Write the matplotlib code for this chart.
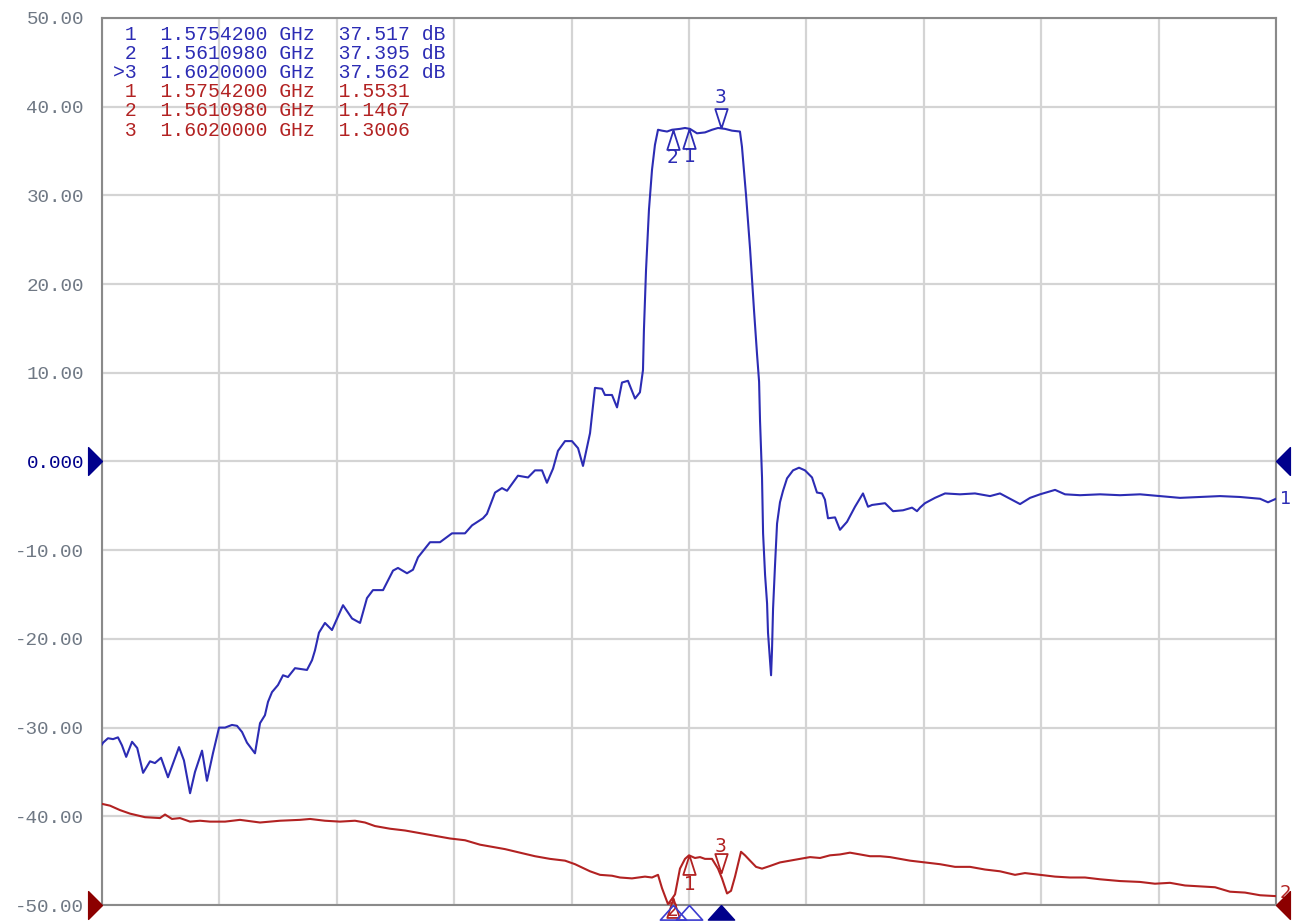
import numpy as np
import matplotlib
matplotlib.use("Agg")
import matplotlib.pyplot as plt

# trace 1 (blue, dB) - frequency in MHz
s21_freq = [1075.0, 1075.9, 1080.1, 1084.4, 1088.6, 1092.0, 1095.6, 1100.6, 1105.0, 1110.0,
            1115.9, 1120.1, 1125.3, 1131.2, 1140.6, 1144.8, 1150.0, 1154.2, 1160.2, 1164.4,
            1169.5, 1174.7, 1179.8, 1185.7, 1190.0, 1194.3, 1198.5, 1205.3, 1209.6, 1213.8,
            1216.4, 1219.8, 1224.9, 1229.2, 1233.4, 1239.4, 1249.6, 1253.9, 1256.4, 1259.8,
            1264.9, 1270.9, 1280.3, 1288.0, 1294.8, 1300.7, 1305.8, 1314.4, 1322.9, 1327.1,
            1334.8, 1339.9, 1344.2, 1354.4, 1362.9, 1373.1, 1384.2, 1390.2, 1399.5, 1402.9,
            1409.8, 1415.7, 1420.0, 1429.3, 1437.9, 1443.8, 1449.8, 1454.0, 1459.2, 1463.4,
            1469.4, 1475.3, 1480.5, 1484.7, 1490.7, 1494.9, 1500.9, 1503.4, 1509.4, 1513.7,
            1517.9, 1523.0, 1529.0, 1533.2, 1535.8, 1536.6, 1538.4, 1540.9, 1543.5, 1546.0,
            1548.6, 1552.0, 1556.3, 1560.5, 1567.3, 1571.6, 1575.8, 1581.8, 1588.6, 1594.6,
            1599.7, 1605.7, 1611.6, 1618.4, 1620.1, 1623.6, 1627.0, 1630.4, 1633.0, 1634.7,
            1635.5, 1637.2, 1638.1, 1639.8, 1641.5, 1642.3, 1644.0, 1644.9, 1645.7, 1646.6,
            1648.3, 1650.0, 1652.5, 1655.1, 1658.5, 1663.6, 1668.7, 1673.8, 1679.8, 1684.0,
            1688.3, 1690.8, 1693.4, 1699.4, 1703.6, 1709.6, 1716.4, 1723.2, 1727.5, 1730.9,
            1742.0, 1748.8, 1757.3, 1765.0, 1769.2, 1771.8, 1776.0, 1784.5, 1793.1, 1805.8,
            1818.6, 1831.4, 1839.9, 1848.4, 1857.0, 1865.5, 1874.0, 1886.8, 1895.3, 1908.1,
            1925.1, 1942.1, 1959.2, 1976.2, 1993.2, 2010.3, 2027.3, 2044.3, 2061.4, 2068.2,
            2075.0]
s21_db = [-31.9, -31.7, -31.2, -31.3, -31.1, -32.0, -33.3, -31.6, -32.3, -35.1,
          -33.8, -34.0, -33.4, -35.6, -32.2, -33.7, -37.4, -35.0, -32.6, -36.0,
          -32.9, -30.0, -30.0, -29.7, -29.8, -30.5, -31.7, -32.9, -29.5, -28.6,
          -27.1, -26.0, -25.2, -24.1, -24.3, -23.3, -23.5, -22.4, -21.3, -19.3,
          -18.2, -19.0, -16.2, -17.7, -18.2, -15.4, -14.5, -14.5, -12.3, -12.0,
          -12.6, -12.2, -10.8, -9.1, -9.1, -8.1, -8.1, -7.2, -6.4, -5.9,
          -3.5, -3.0, -3.3, -1.6, -1.8, -1.0, -1.0, -2.4, -0.8, 1.2,
          2.3, 2.3, 1.5, -0.5, 3.2, 8.3, 8.2, 7.5, 7.5, 6.1,
          8.9, 9.1, 7.1, 7.8, 10.3, 14.8, 21.6, 28.4, 32.9, 35.7,
          37.4, 37.3, 37.2, 37.4, 37.5, 37.6, 37.5, 37.0, 37.1, 37.4,
          37.6, 37.5, 37.3, 37.2, 35.5, 30.0, 24.0, 17.0, 12.0, 9.0,
          4.6, -1.8, -8.1, -12.8, -16.0, -19.3, -22.4, -24.1, -21.3, -16.6,
          -11.6, -7.0, -4.6, -3.3, -1.9, -1.0, -0.7, -1.0, -1.8, -3.5,
          -3.6, -4.3, -6.4, -6.3, -7.7, -6.8, -5.1, -3.6, -5.1, -4.9,
          -4.7, -5.6, -5.5, -5.2, -5.6, -5.2, -4.7, -4.1, -3.6, -3.7,
          -3.6, -3.9, -3.6, -4.2, -4.8, -4.1, -3.7, -3.2, -3.7, -3.8,
          -3.7, -3.8, -3.7, -3.9, -4.1, -4.0, -3.9, -4.0, -4.2, -4.6,
          -4.2]

# trace 2 (red), drawn on the same graticule
s11_freq = [1075.0, 1081.8, 1090.3, 1098.9, 1111.6, 1124.4, 1128.7, 1134.6, 1141.4, 1150.0,
            1158.5, 1167.0, 1179.8, 1192.5, 1209.6, 1226.6, 1243.7, 1252.2, 1264.9, 1277.7,
            1290.5, 1299.0, 1307.5, 1320.3, 1333.1, 1345.9, 1358.6, 1371.4, 1384.2, 1397.0,
            1409.8, 1418.3, 1431.0, 1443.8, 1456.6, 1469.4, 1477.9, 1490.7, 1499.2, 1509.4,
            1516.2, 1526.4, 1537.5, 1543.5, 1548.6, 1552.0, 1557.1, 1560.5, 1563.1, 1567.3,
            1571.6, 1575.0, 1580.1, 1584.4, 1588.6, 1594.6, 1599.7, 1603.1, 1607.4, 1610.8,
            1614.2, 1619.3, 1622.7, 1627.0, 1632.1, 1637.2, 1644.0, 1652.5, 1661.0, 1669.5,
            1678.1, 1686.6, 1695.1, 1703.6, 1712.1, 1720.7, 1729.2, 1737.7, 1746.2, 1754.7,
            1763.2, 1776.0, 1788.8, 1801.6, 1814.4, 1827.1, 1839.9, 1852.7, 1861.2, 1874.0,
            1886.8, 1899.5, 1912.3, 1925.1, 1942.1, 1959.2, 1971.9, 1984.7, 1997.5, 2010.3,
            2023.1, 2035.8, 2048.6, 2061.4, 2075.0]
s11_val = [-38.6, -38.8, -39.3, -39.7, -40.1, -40.2, -39.8, -40.3, -40.2, -40.6,
           -40.5, -40.6, -40.6, -40.4, -40.7, -40.5, -40.4, -40.3, -40.5, -40.6,
           -40.5, -40.7, -41.1, -41.4, -41.6, -41.9, -42.2, -42.5, -42.7, -43.2,
           -43.5, -43.7, -44.1, -44.5, -44.8, -45.0, -45.4, -46.2, -46.6, -46.7,
           -46.9, -47.0, -46.8, -46.9, -46.6, -48.1, -49.9, -49.3, -48.8, -45.9,
           -44.8, -44.4, -44.7, -44.6, -44.8, -44.8, -45.9, -47.0, -48.7, -48.4,
           -46.8, -44.0, -44.4, -45.0, -45.7, -45.9, -45.6, -45.2, -45.0, -44.8,
           -44.6, -44.7, -44.4, -44.3, -44.1, -44.3, -44.5, -44.5, -44.6, -44.8,
           -45.0, -45.2, -45.4, -45.7, -45.7, -46.0, -46.2, -46.6, -46.4, -46.6,
           -46.8, -46.9, -46.9, -47.1, -47.3, -47.4, -47.6, -47.5, -47.8, -47.9,
           -48.0, -48.5, -48.6, -48.9, -49.0]

# markers
mk_ids = [1, 2, 3]
mk_freq_ghz = [1.57542, 1.561098, 1.602]
mk_s21 = [37.517, 37.395, 37.562]
mk_s11_read = [1.5531, 1.1467, 1.3006]
mk_s11_pos = [-44.4, -49.2, -46.4]
active = 3
ref_levels = [0.0, -50.0]   # blue, red

BLUE = "#2c2cb4"
RED = "#b22222"
NAVY = "#00008c"
DRED = "#8c0000"
mono = "Liberation Mono"

fig = plt.figure(figsize=(13, 9.22), dpi=100)
ax = fig.add_axes([102/1300, 1-905/922, 1174/1300, 887/922])
ax.set_xlim(1075, 2075)
ax.set_ylim(-50, 50)
ax.set_xticks(np.linspace(1075, 2075, 11))
ax.set_yticks(np.arange(-50, 51, 10))
ax.grid(True, color="#d4d4d4", lw=1.6)
ax.set_axisbelow(True)
ax.tick_params(length=0, labelbottom=False, pad=13)
for sp in ax.spines.values():
    sp.set_color("#8a8a8a")
    sp.set_linewidth(1.5)
labels = []
for v in np.arange(-50, 51, 10):
    labels.append("0.000" if v == 0 else "%.2f" % v)
ax.set_yticklabels(labels)
for t, v in zip(ax.get_yticklabels(), np.arange(-50, 51, 10)):
    t.set_fontfamily(mono)
    t.set_fontsize(13.9)
    t.set_color(NAVY if v == 0 else "#6f7884")

ax.plot(s11_freq, s11_val, color=RED, lw=1.5, zorder=3)
ax.plot(s21_freq, s21_db, color=BLUE, lw=1.5, zorder=4)

tri_up = [(0, 0), (-0.32, -1), (0.32, -1), (0, 0)]
tri_dn = [(0, 0), (-0.32, 1), (0.32, 1), (0, 0)]
MS = 28
for i, f, v, r in zip(mk_ids, mk_freq_ghz, mk_s21, mk_s11_pos):
    fm = f * 1000
    if i == 3:
        ax.plot(fm, v, marker=tri_dn, ms=MS, mfc="none", mec=BLUE, mew=1.3, zorder=5)
        ax.annotate(str(i), (fm, v), xytext=(0, 22), textcoords="offset points",
                    ha="center", va="center", color=BLUE, fontsize=13.5)
        ax.plot(fm, r, marker=tri_dn, ms=MS, mfc="none", mec=RED, mew=1.3, zorder=5)
        ax.annotate(str(i), (fm, r), xytext=(0, 19), textcoords="offset points",
                    ha="center", va="center", color=RED, fontsize=13.5)
    else:
        ax.plot(fm, v, marker=tri_up, ms=MS, mfc="none", mec=BLUE, mew=1.3, zorder=5)
        ax.annotate(str(i), (fm, v), xytext=(0, -20), textcoords="offset points",
                    ha="center", va="center", color=BLUE, fontsize=13.5)
        ax.plot(fm, r, marker=tri_up, ms=MS, mfc="none", mec=RED, mew=1.3, zorder=5,
                clip_on=False)
        dy = -21 if i == 1 else -9
        ax.annotate(str(i), (fm, r), xytext=(0, dy), textcoords="offset points",
                    ha="center", va="center", color=RED, fontsize=13.5,
                    annotation_clip=False)

# stimulus markers under the graticule
bot = [(0, 0), (-0.9, -1), (0.9, -1), (0, 0)]
xt = ax.get_xaxis_transform()
for i, f in zip(mk_ids, mk_freq_ghz):
    if i == active:
        ax.plot(f * 1000, 0, marker=bot, ms=21, mfc=NAVY, mec=NAVY, transform=xt,
                clip_on=False, zorder=6)
    else:
        ax.plot(f * 1000, 0, marker=bot, ms=21, mfc="none", mec="#3c3cd0", mew=1.2,
                transform=xt, clip_on=False, zorder=6)

# reference level arrows
yt = ax.get_yaxis_transform()
left = [(0, 0), (-1, 1), (-1, -1), (0, 0)]
right = [(0, 0), (1, 1), (1, -1), (0, 0)]
for lvl, c in zip(ref_levels, [NAVY, DRED]):
    ax.plot(0, lvl, marker=left, ms=20, mfc=c, mec=c, transform=yt, clip_on=False, zorder=6)
    ax.plot(1, lvl, marker=right, ms=20, mfc=c, mec=c, transform=yt, clip_on=False, zorder=6)

ax.annotate("1", (s21_freq[-1], s21_db[-1]), xytext=(7, 0), textcoords="offset points",
            ha="center", va="center", color=BLUE, fontsize=13, annotation_clip=False)
ax.annotate("2", (s11_freq[-1], s11_val[-1]), xytext=(7, 2), textcoords="offset points",
            ha="center", va="center", color=RED, fontsize=13, annotation_clip=False)

# marker readout
rows = []
for i, f, v in zip(mk_ids, mk_freq_ghz, mk_s21):
    tag = ">" if i == active else " "
    rows.append((f"{tag}{i}  {f:.7f} GHz  {v:.3f} dB", BLUE))
for i, f, v in zip(mk_ids, mk_freq_ghz, mk_s11_read):
    rows.append((f" {i}  {f:.7f} GHz  {v:.4f}", RED))
for k, (txt, c) in enumerate(rows):
    y = 34 + k * 19.2
    fig.text(113/1300, 1 - y/922, txt, family=mono, fontsize=14.2, color=c,
             ha="left", va="center")

fig.savefig("out.png", dpi=100)
